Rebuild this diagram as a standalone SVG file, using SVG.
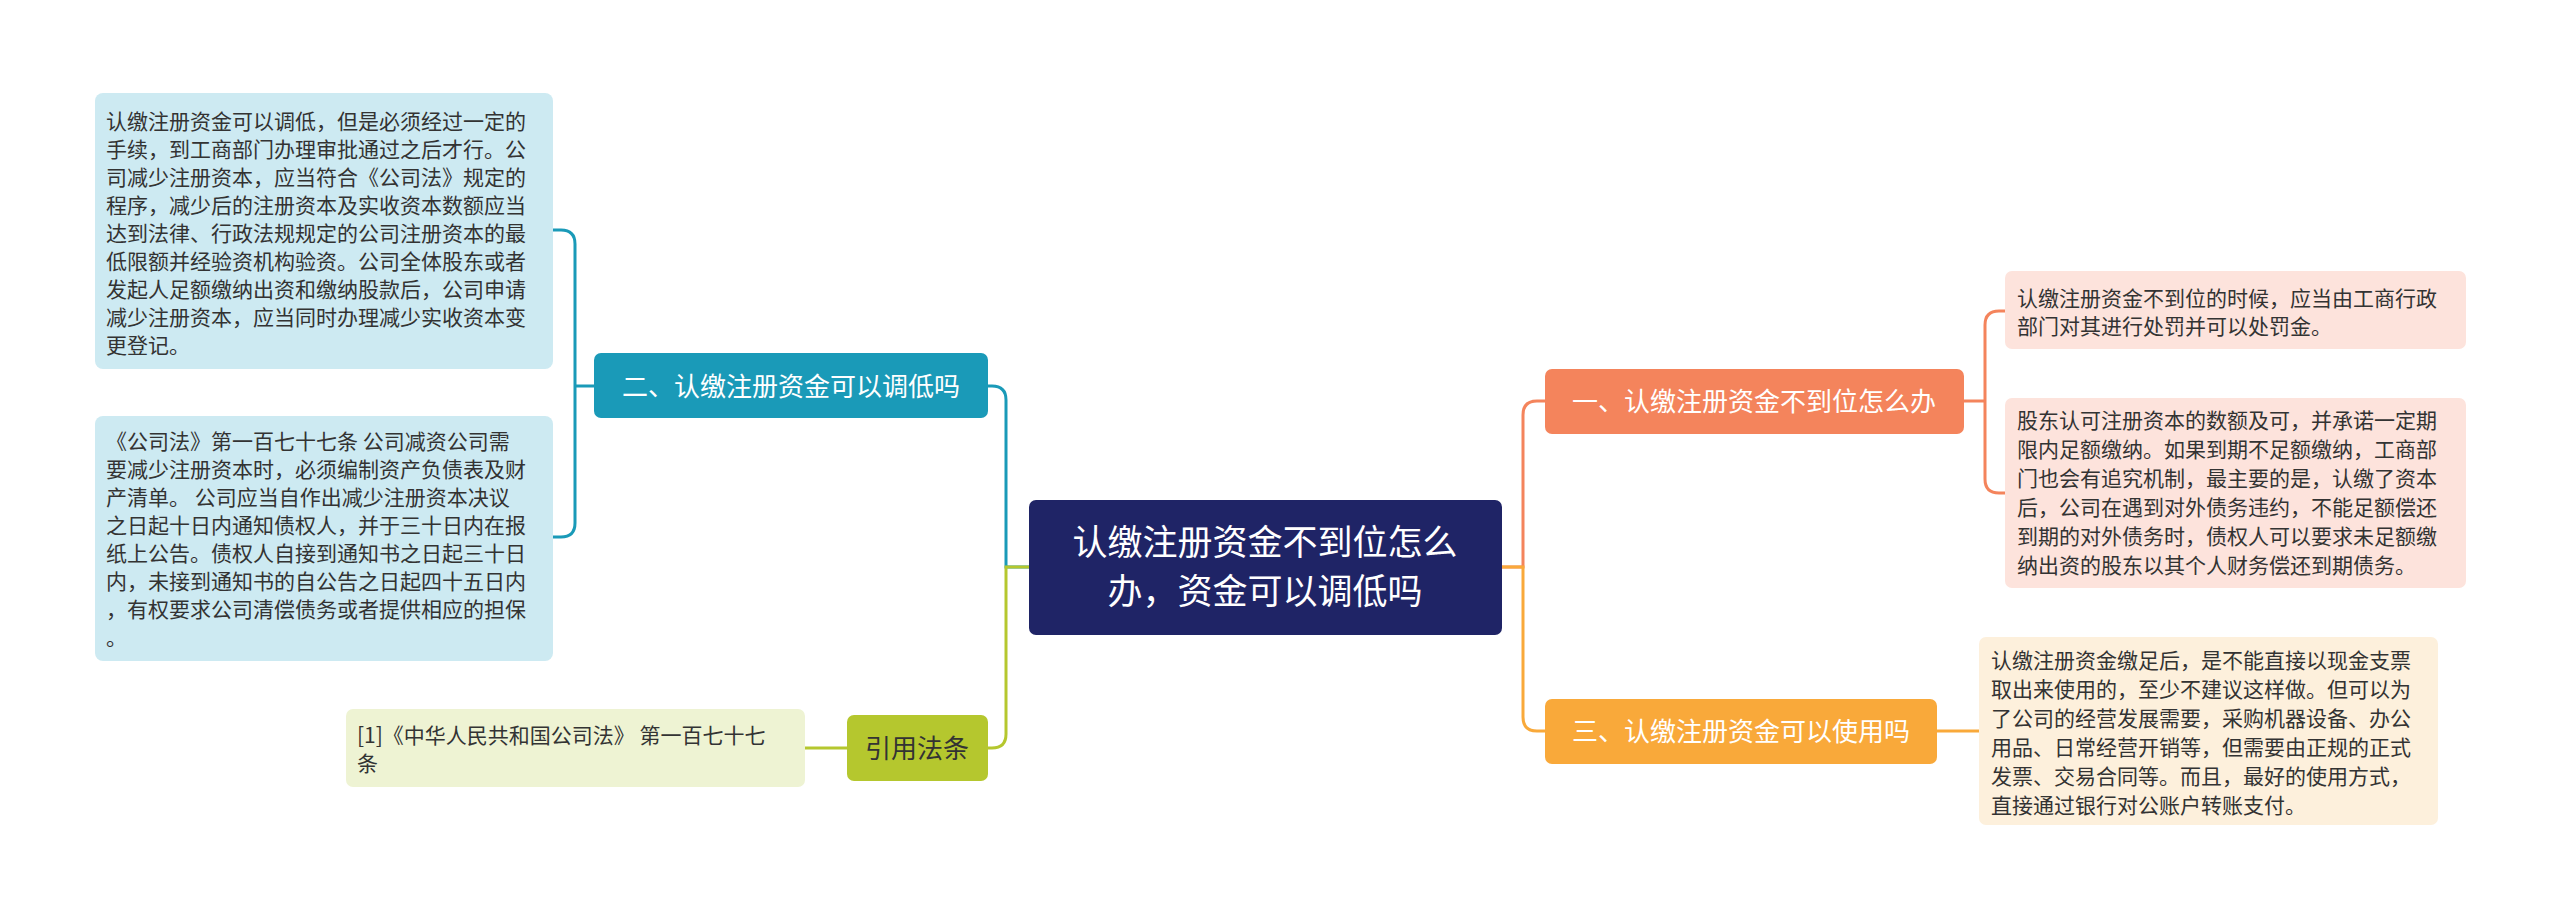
<svg xmlns="http://www.w3.org/2000/svg" width="2560" height="920" viewBox="0 0 2560 920">
<style>
text{font-family:"Noto Sans CJK SC","Noto Sans",sans-serif}
.t{font-size:21px;fill:#333}
.c{fill:none;stroke-width:3}
</style>
<rect width="2560" height="920" fill="#fff"/>
<g id="connectors">
<path class="c" stroke="#1a9ab8" d="M1029,567 H1006 V400 Q1006,386 992,386 H988"/>
<path class="c" stroke="#b5c72e" d="M1029,567 H1006 V734 Q1006,748 992,748 H988"/>
<path class="c" stroke="#1a9ab8" d="M594,386 H575 V244 Q575,230 561,230 H553 M575,386 V523 Q575,537 561,537 H553"/>
<path class="c" stroke="#b5c72e" d="M847,748 H805"/>
<path class="c" stroke="#f4845c" d="M1502,567 H1523 V415 Q1523,401 1537,401 H1545"/>
<path class="c" stroke="#f9a93a" d="M1502,567 H1523 V717 Q1523,731 1537,731 H1545"/>
<path class="c" stroke="#f4845c" d="M1964,401 H1985 V325 Q1985,311 1999,311 H2005 M1985,401 V479 Q1985,493 1999,493 H2005"/>
<path class="c" stroke="#f9a93a" d="M1937,731 H1979"/>
</g>
<g id="center"><rect x="1029" y="500" width="473" height="135" rx="7" fill="#1f2466"/>
<text x="1265" y="555" font-size="35" fill="#fff" text-anchor="middle">认缴注册资金不到位怎么</text>
<text x="1265" y="604" font-size="35" fill="#fff" text-anchor="middle">办，资金可以调低吗</text></g>
<g id="n2"><rect x="594" y="353" width="394" height="65" rx="7" fill="#1a9ab8"/>
<text x="791" y="396" font-size="26" fill="#fff" text-anchor="middle">二、认缴注册资金可以调低吗</text></g>
<g id="n2a"><rect x="95" y="93" width="458" height="276" rx="8" fill="#cdeaf2"/>
<text class="t"><tspan x="106" y="129">认缴注册资金可以调低，但是必须经过一定的</tspan><tspan x="106" y="157">手续，到工商部门办理审批通过之后才行。公</tspan><tspan x="106" y="185">司减少注册资本，应当符合《公司法》规定的</tspan><tspan x="106" y="213">程序，减少后的注册资本及实收资本数额应当</tspan><tspan x="106" y="241">达到法律、行政法规规定的公司注册资本的最</tspan><tspan x="106" y="269">低限额并经验资机构验资。公司全体股东或者</tspan><tspan x="106" y="297">发起人足额缴纳出资和缴纳股款后，公司申请</tspan><tspan x="106" y="325">减少注册资本，应当同时办理减少实收资本变</tspan><tspan x="106" y="353">更登记。</tspan></text></g>
<g id="n2b"><rect x="95" y="416" width="458" height="245" rx="8" fill="#cdeaf2"/>
<text class="t"><tspan x="106" y="449">《公司法》第一百七十七条 公司减资公司需</tspan><tspan x="106" y="477">要减少注册资本时，必须编制资产负债表及财</tspan><tspan x="106" y="505">产清单。 公司应当自作出减少注册资本决议</tspan><tspan x="106" y="533">之日起十日内通知债权人，并于三十日内在报</tspan><tspan x="106" y="561">纸上公告。债权人自接到通知书之日起三十日</tspan><tspan x="106" y="589">内，未接到通知书的自公告之日起四十五日内</tspan><tspan x="106" y="617">，有权要求公司清偿债务或者提供相应的担保</tspan><tspan x="106" y="645">。</tspan></text></g>
<g id="cite"><rect x="847" y="715" width="141" height="66" rx="7" fill="#b5c72e"/>
<text x="917" y="758" font-size="26" fill="#333" text-anchor="middle">引用法条</text></g>
<g id="citea"><rect x="346" y="709" width="459" height="78" rx="7" fill="#eef3d3"/>
<text class="t"><tspan x="357" y="743">[1]《中华人民共和国公司法》 第一百七十七</tspan><tspan x="357" y="771">条</tspan></text></g>
<g id="n1"><rect x="1545" y="369" width="419" height="65" rx="7" fill="#f4845c"/>
<text x="1754" y="411" font-size="26" fill="#fff" text-anchor="middle">一、认缴注册资金不到位怎么办</text></g>
<g id="n1a"><rect x="2005" y="271" width="461" height="78" rx="7" fill="#fde3dc"/>
<text class="t"><tspan x="2017" y="306">认缴注册资金不到位的时候，应当由工商行政</tspan><tspan x="2017" y="334">部门对其进行处罚并可以处罚金。</tspan></text></g>
<g id="n1b"><rect x="2005" y="398" width="461" height="190" rx="7" fill="#fde3dc"/>
<text class="t"><tspan x="2017" y="428">股东认可注册资本的数额及可，并承诺一定期</tspan><tspan x="2017" y="457">限内足额缴纳。如果到期不足额缴纳，工商部</tspan><tspan x="2017" y="486">门也会有追究机制，最主要的是，认缴了资本</tspan><tspan x="2017" y="515">后，公司在遇到对外债务违约，不能足额偿还</tspan><tspan x="2017" y="544">到期的对外债务时，债权人可以要求未足额缴</tspan><tspan x="2017" y="573">纳出资的股东以其个人财务偿还到期债务。</tspan></text></g>
<g id="n3"><rect x="1545" y="699" width="392" height="65" rx="7" fill="#f9a93a"/>
<text x="1741" y="741" font-size="26" fill="#fff" text-anchor="middle">三、认缴注册资金可以使用吗</text></g>
<g id="n3a"><rect x="1979" y="637" width="459" height="188" rx="7" fill="#fdf0dc"/>
<text class="t"><tspan x="1991" y="668">认缴注册资金缴足后，是不能直接以现金支票</tspan><tspan x="1991" y="697">取出来使用的，至少不建议这样做。但可以为</tspan><tspan x="1991" y="726">了公司的经营发展需要，采购机器设备、办公</tspan><tspan x="1991" y="755">用品、日常经营开销等，但需要由正规的正式</tspan><tspan x="1991" y="784">发票、交易合同等。而且，最好的使用方式，</tspan><tspan x="1991" y="813">直接通过银行对公账户转账支付。</tspan></text></g>
</svg>
